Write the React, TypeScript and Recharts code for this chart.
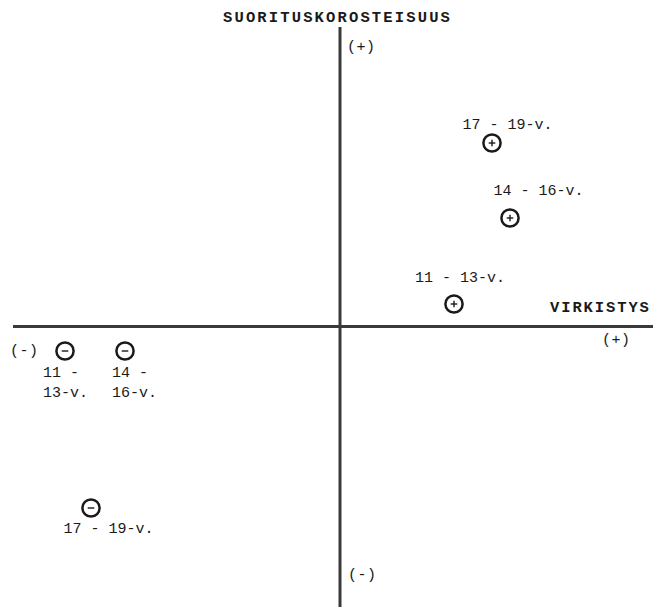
import React from 'react';
import { ScatterChart, Scatter, XAxis, YAxis, ReferenceLine, ReferenceDot } from 'recharts';

// ---- data ----
const GROUPS = ['11 - 13-v.', '14 - 16-v.', '17 - 19-v.'];
const POS_X = [1.14, 1.7, 1.52];
const POS_Y = [0.225, 1.085, 1.835];
const NEG_X = [-2.75, -2.15, -2.49];
const NEG_Y = [-0.245, -0.245, -1.815];
const NEG_LABEL_LINES = [['11 -', '13-v.'], ['14 -', '16-v.'], ['17 - 19-v.']];

const X_DOMAIN = [-3.4, 3.13];
const Y_DOMAIN = [-2.805, 3.265];

const Y_AXIS_TITLE = 'SUORITUSKOROSTEISUUS';
const X_AXIS_TITLE = 'VIRKISTYS';

// ---- layout / style (not data) ----
const FONT = '"Liberation Mono", "DejaVu Sans Mono", monospace';
const INK = '#1a1a1a';
const POS_LABEL_LAYOUT = [
  { dx: 6, dy: -26, anchor: 'middle' },
  { dx: 28.5, dy: -27, anchor: 'middle' },
  { dx: 15.5, dy: -18, anchor: 'middle' },
];
const NEG_LABEL_LAYOUT = [
  { dx: -22, dy: 22, anchor: 'start' },
  { dx: -13, dy: 22, anchor: 'start' },
  { dx: 17.5, dy: 21, anchor: 'middle' },
];

const posData = GROUPS.map((g, i) => ({ x: POS_X[i], y: POS_Y[i], i, lines: [g], sign: '+' }));
const negData = GROUPS.map((g, i) => ({ x: NEG_X[i], y: NEG_Y[i], i, lines: NEG_LABEL_LINES[i], sign: '-' }));

const Marker = (props: any) => {
  const { cx, cy, payload } = props;
  if (cx == null || cy == null) return null;
  const layout = payload.sign === '+' ? POS_LABEL_LAYOUT[payload.i] : NEG_LABEL_LAYOUT[payload.i];
  return (
    <g>
      <circle cx={cx} cy={cy} r={8.6} fill="#fff" stroke={INK} strokeWidth={2.5} />
      <line x1={cx - 3.3} y1={cy} x2={cx + 3.3} y2={cy} stroke={INK} strokeWidth={1.4} />
      {payload.sign === '+' && (
        <line x1={cx} y1={cy - 3.3} x2={cx} y2={cy + 3.3} stroke={INK} strokeWidth={1.4} />
      )}
      {payload.lines.map((t: string, k: number) => (
        <text
          key={k}
          x={cx + layout.dx}
          y={cy + layout.dy + k * 20}
          textAnchor={layout.anchor}
          dominantBaseline="central"
          fontFamily={FONT}
          fontSize={15}
          fill={INK}
        >
          {t}
        </text>
      ))}
    </g>
  );
};

const textLabel = (value: string, bold: boolean, spacing: number) => (props: any) => {
  const vb = props.viewBox || {};
  const x = (vb.x ?? 0) + (vb.width ?? 0) / 2;
  const y = (vb.y ?? 0) + (vb.height ?? 0) / 2;
  return (
    <text
      x={x}
      y={y}
      textAnchor="start"
      dominantBaseline="central"
      fontFamily={FONT}
      fontSize={bold ? 15.5 : 15}
      fontWeight={bold ? 700 : 400}
      letterSpacing={spacing}
      fill={INK}
    >
      {value}
    </text>
  );
};

export default function App() {
  return (
    <div style={{ width: 653, height: 607, background: '#fff' }}>
      <style>{`body{margin:0;background:#fff;}`}</style>
      <ScatterChart width={653} height={607} margin={{ top: 0, right: 0, bottom: 0, left: 0 }}>
        <XAxis type="number" dataKey="x" domain={X_DOMAIN} allowDataOverflow hide />
        <YAxis type="number" dataKey="y" domain={Y_DOMAIN} allowDataOverflow hide />
        <ReferenceLine
          segment={[{ x: -3.27, y: 0 }, { x: 3.13, y: 0 }]}
          stroke="#3a3a3a"
          strokeWidth={3}
          ifOverflow="extendDomain"
        />
        <ReferenceLine
          segment={[{ x: 0, y: 2.995 }, { x: 0, y: -2.805 }]}
          stroke="#3a3a3a"
          strokeWidth={3}
          ifOverflow="extendDomain"
        />
        <ReferenceDot x={-1.17} y={3.085} r={0} fill="none" stroke="none" label={textLabel(Y_AXIS_TITLE, true, 2.15)} />
        <ReferenceDot x={2.1} y={0.185} r={0} fill="none" stroke="none" label={textLabel(X_AXIS_TITLE, true, 1.9)} />
        <ReferenceDot x={0.07} y={2.795} r={0} fill="none" stroke="none" label={textLabel('(+)', false, 0.5)} />
        <ReferenceDot x={2.62} y={-0.135} r={0} fill="none" stroke="none" label={textLabel('(+)', false, 0.5)} />
        <ReferenceDot x={-3.3} y={-0.245} r={0} fill="none" stroke="none" label={textLabel('(-)', false, 0.5)} />
        <ReferenceDot x={0.08} y={-2.485} r={0} fill="none" stroke="none" label={textLabel('(-)', false, 0.5)} />
        <Scatter name="positive" data={posData} shape={Marker} isAnimationActive={false} />
        <Scatter name="negative" data={negData} shape={Marker} isAnimationActive={false} />
      </ScatterChart>
    </div>
  );
}
